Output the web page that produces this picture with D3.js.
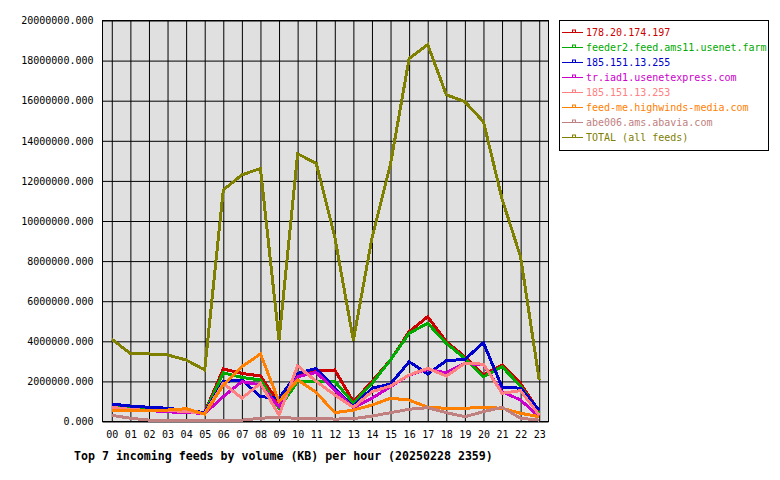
<!DOCTYPE html>
<html>
<head>
<meta charset="utf-8">
<script src="https://cdn.jsdelivr.net/npm/d3@7"></script>
<style>
  body { margin: 0; background: white; }
</style>
</head>
<body>
<div id="chart"></div>
<script>
// hours on the x axis
var hours = ["00","01","02","03","04","05","06","07","08","09","10","11",
             "12","13","14","15","16","17","18","19","20","21","22","23"];

// feed names, in legend order
var feedNames = ["178.20.174.197", "feeder2.feed.ams11.usenet.farm", "185.151.13.255",
                 "tr.iad1.usenetexpress.com", "185.151.13.253", "feed-me.highwinds-media.com",
                 "abe006.ams.abavia.com", "TOTAL (all feeds)"];

// KB per hour (millions)
var feed1 = [0.80,0.70,0.65,0.60,0.55,0.45,2.62,2.40,2.27,0.91,2.37,2.53,2.57,0.99,1.99,3.07,4.48,5.23,3.98,3.23,2.32,2.82,1.90,0.49];
var feed2 = [0.78,0.68,0.65,0.65,0.55,0.42,2.43,2.20,2.07,0.66,1.99,2.00,2.00,0.91,1.90,3.07,4.40,4.90,3.90,3.15,2.23,2.73,1.77,0.41];
var feed3 = [0.87,0.77,0.71,0.66,0.55,0.45,1.99,2.07,1.24,1.16,2.40,2.65,1.66,0.74,1.66,1.87,2.98,2.37,3.03,3.10,3.93,1.71,1.66,0.57];
var feed4 = [0.70,0.60,0.55,0.48,0.45,0.40,1.24,1.99,1.82,0.74,2.23,2.45,1.57,0.69,1.16,1.74,2.32,2.60,2.43,2.90,2.82,1.49,1.07,0.24];
var feed5 = [0.71,0.60,0.55,0.55,0.50,0.40,1.90,1.16,1.90,0.32,2.78,2.00,1.32,0.71,1.49,1.77,2.32,2.65,2.27,2.90,2.86,1.41,1.54,0.32];
var feed6 = [0.57,0.54,0.54,0.57,0.64,0.37,1.82,2.73,3.37,0.99,2.07,1.45,0.44,0.57,0.82,1.16,1.07,0.71,0.66,0.66,0.71,0.66,0.41,0.24];
var feed7 = [0.31,0.16,0.07,0.07,0.07,0.07,0.07,0.07,0.16,0.22,0.15,0.16,0.12,0.14,0.27,0.44,0.61,0.69,0.44,0.24,0.49,0.71,0.16,0.07];
var total = [4.10,3.40,3.37,3.32,3.07,2.57,11.55,12.30,12.62,4.06,13.35,12.88,9.20,4.05,9.15,12.85,18.10,18.80,16.30,15.95,14.95,11.10,8.20,2.07];

var yTicks = [0,2,4,6,8,10,12,14,16,18,20];

var colors = ["#cc0000", "#00aa00", "#0000cc", "#cc00cc", "#ff8080", "#ff8000", "#c08080", "#808000"];

var allSeries = [feed1, feed2, feed3, feed4, feed5, feed6, feed7, total];

var width = 780, height = 480;
var plot = {left: 102.5, right: 548.5, top: 20.5, bottom: 421.5};

var svg = d3.select("#chart")
  .append("svg")
    .attr("width", width)
    .attr("height", height)
    .style("font-family", "'DejaVu Sans Mono', monospace");

// x is a linear scale over hour index, half a step padding on both sides
var x = d3.scaleLinear()
  .domain([-0.5, hours.length - 0.5])
  .range([plot.left, plot.right]);

var y = d3.scaleLinear()
  .domain([0, 20000000])
  .range([plot.bottom, plot.top]);

// plot background
svg.append("rect")
  .attr("x", plot.left)
  .attr("y", plot.top)
  .attr("width", plot.right - plot.left)
  .attr("height", plot.bottom - plot.top)
  .attr("fill", "#e0e0e0");

// horizontal grid + y labels
svg.append("g")
  .attr("transform", "translate(" + plot.left + ",0)")
  .call(d3.axisLeft(y)
    .tickValues(yTicks.map(function(d){ return d * 1000000; }))
    .tickSize(-(plot.right - plot.left))
    .tickPadding(9)
    .tickFormat(d3.format(".3f")))
  .call(function(g){
    g.select(".domain").remove();
    g.selectAll(".tick line").attr("stroke", "black");
    g.selectAll(".tick text")
      .attr("fill", "black")
      .style("font-size", "10px")
      .style("font-family", "'DejaVu Sans Mono', monospace");
  });

// vertical grid + hour labels
svg.append("g")
  .attr("transform", "translate(0," + plot.bottom + ")")
  .call(d3.axisBottom(x)
    .tickValues(d3.range(hours.length))
    .tickSize(-(plot.bottom - plot.top))
    .tickPadding(9)
    .tickFormat(function(i){ return hours[i]; }))
  .call(function(g){
    g.select(".domain").remove();
    g.selectAll(".tick line").attr("stroke", "black");
    g.selectAll(".tick text")
      .attr("fill", "black")
      .style("font-size", "10px")
      .style("font-family", "'DejaVu Sans Mono', monospace");
  });

// plot border
svg.append("rect")
  .attr("x", plot.left)
  .attr("y", plot.top)
  .attr("width", plot.right - plot.left)
  .attr("height", plot.bottom - plot.top)
  .attr("fill", "none")
  .attr("stroke", "black");

var line = d3.line()
  .x(function(d, i){ return x(i); })
  .y(function(d){ return y(d * 1000000); });

// draw in legend order, later ones on top (no antialias, like the gd original)
svg.selectAll("path.feed")
  .data(allSeries)
  .enter()
  .append("path")
    .attr("class", "feed")
    .attr("fill", "none")
    .attr("stroke", function(d, i){ return colors[i]; })
    .attr("stroke-width", 3)
    .attr("shape-rendering", "crispEdges")
    .attr("d", line);

// legend
var legend = svg.append("g");
legend.append("rect")
  .attr("x", 559.5)
  .attr("y", 20.5)
  .attr("width", 209)
  .attr("height", 130)
  .attr("fill", "white")
  .attr("stroke", "black");

var items = legend.selectAll("g.item")
  .data(feedNames)
  .enter()
  .append("g")
    .attr("class", "item")
    .attr("transform", function(d, i){ return "translate(0," + (32.5 + i * 15) + ")"; });

items.append("line")
  .attr("x1", 562)
  .attr("x2", 583)
  .attr("y1", 0)
  .attr("y2", 0)
  .attr("stroke", function(d, i){ return colors[i]; });

items.append("rect")
  .attr("x", 572.5)
  .attr("y", -2.5)
  .attr("width", 3)
  .attr("height", 2.5)
  .attr("fill", "none")
  .attr("stroke", function(d, i){ return colors[i]; });

items.append("text")
  .attr("x", 586)
  .attr("y", 0)
  .attr("dy", "0.35em")
  .attr("fill", function(d, i){ return colors[i]; })
  .style("font-size", "10px")
  .text(function(d){ return d; });

// title under the chart
svg.append("text")
  .attr("x", 74)
  .attr("y", 456)
  .attr("dy", "0.35em")
  .style("font-size", "11.6px")
  .style("font-weight", "bold")
  .attr("fill", "black")
  .text("Top 7 incoming feeds by volume (KB) per hour (20250228 2359)");
</script>
</body>
</html>
